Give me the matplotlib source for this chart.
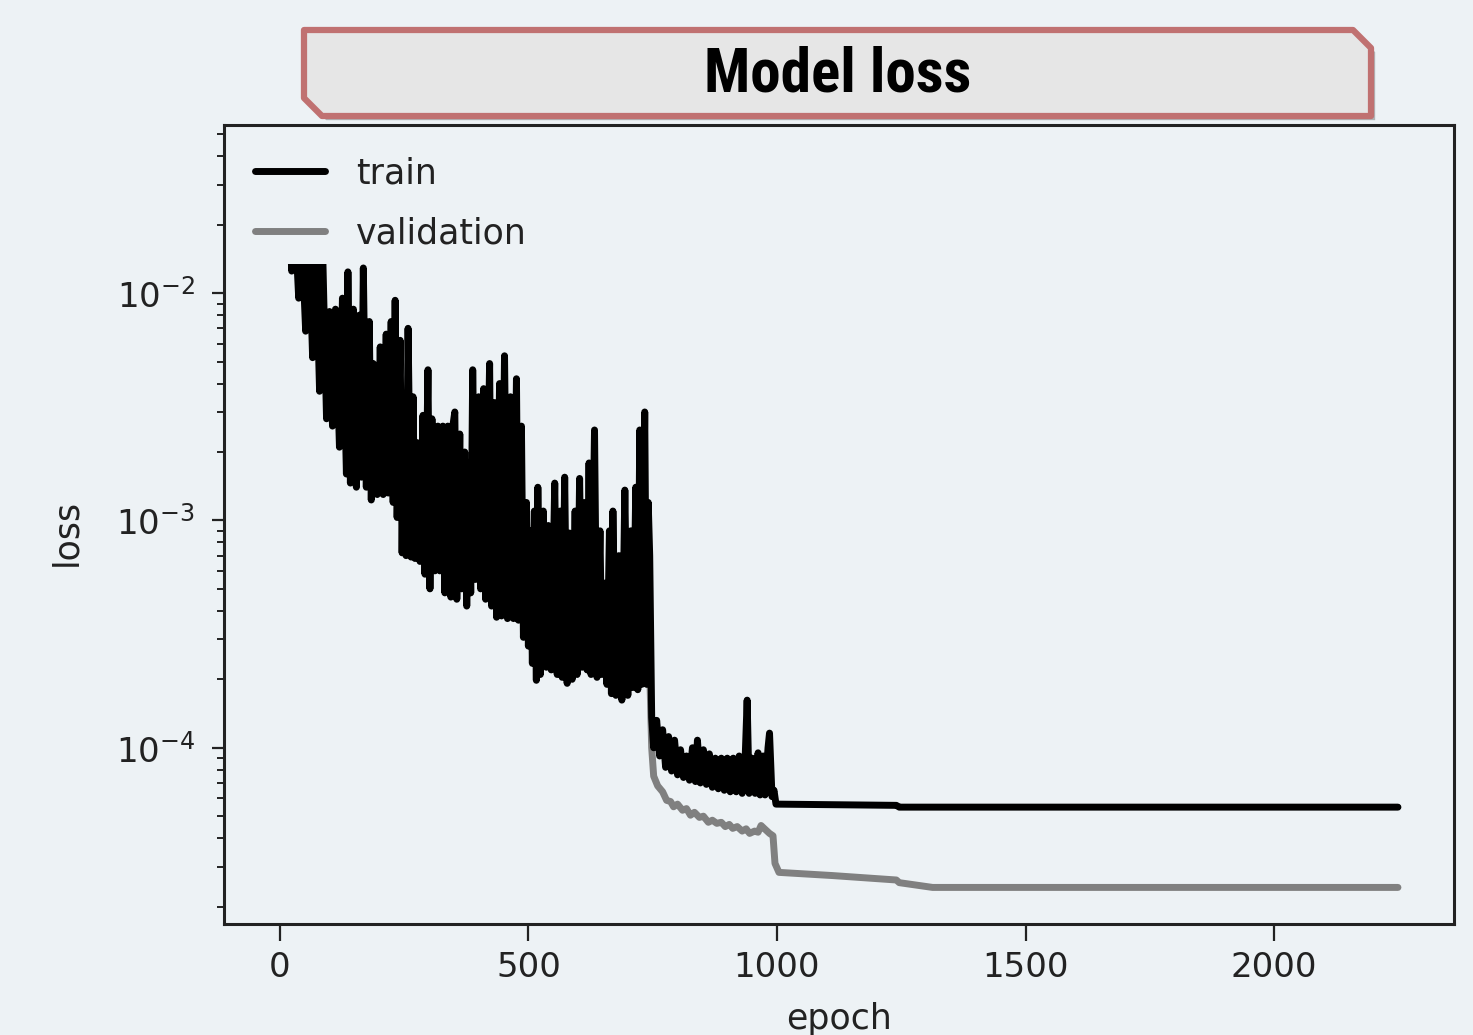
import matplotlib
matplotlib.use("Agg")
import matplotlib.pyplot as plt
from matplotlib import font_manager
from matplotlib.patches import Polygon
import matplotlib.patheffects as pe

# values (log-scale loss per epoch)
TRAIN_EPOCH = [
    0, 10, 18, 24, 30, 38, 44, 52, 58, 66, 72, 80, 86, 94, 100, 106, 112, 120,
    126, 134, 137, 142, 148, 154, 160, 164, 168, 174, 180, 184, 188, 196, 202,
    208, 214, 218, 224, 228, 232, 236, 242, 246, 250, 254, 258, 264, 268, 272,
    276, 282, 288, 292, 298, 302, 306, 312, 318, 322, 328, 332, 338, 344, 348,
    352, 356, 362, 366, 372, 376, 380, 384, 388, 394, 400, 404, 410, 414, 422,
    426, 432, 436, 442, 446, 452, 458, 464, 470, 476, 480, 486, 490, 496, 500,
    504, 508, 512, 516, 519, 524, 530, 536, 540, 546, 553, 558, 564, 568, 573,
    578, 583, 588, 594, 598, 603, 608, 614, 618, 622, 626, 633, 638, 644, 648,
    653, 658, 663, 667, 670, 676, 682, 688, 694, 700, 706, 710, 716, 720, 724,
    728, 734, 738, 741, 744,
    748, 752, 758, 764, 770, 776, 782, 788, 794, 800, 806, 812, 818, 824, 830,
    836, 840, 846, 852, 858, 864, 870, 876, 882, 888, 894, 900, 906, 912, 918,
    924, 930, 936, 940, 944, 950, 956, 962, 966, 972, 976, 982, 985, 990, 994,
    998, 1240, 1246, 2249,
]
TRAIN_LOSS = [
    0.036, 0.016, 0.025, 0.0125, 0.022, 0.0095, 0.018, 0.0068, 0.02, 0.0052,
    0.017, 0.0037, 0.016, 0.0028, 0.0083, 0.0026, 0.0085, 0.0021, 0.0095,
    0.0016, 0.0124, 0.00146, 0.0085, 0.0014, 0.0080, 0.00155, 0.0129, 0.0014,
    0.0075, 0.00123, 0.0049, 0.0013, 0.0058, 0.0013, 0.0066, 0.00132, 0.0075,
    0.0012, 0.0093, 0.00103, 0.0062, 0.00072, 0.0032, 0.0007, 0.0070, 0.00069,
    0.0035, 0.00068, 0.0022, 0.00066, 0.0029, 0.00058, 0.0046, 0.0005, 0.0028,
    0.0006, 0.0026, 0.0006, 0.0026, 0.00048, 0.0026, 0.00046, 0.0026, 0.0030,
    0.00045, 0.0024, 0.0005, 0.0020, 0.00042, 0.0018, 0.00048, 0.0046,
    0.00055, 0.0035, 0.0005, 0.0038, 0.00045, 0.0049, 0.00042, 0.0033,
    0.000375, 0.0040, 0.00038, 0.0053, 0.00037, 0.0035, 0.00037, 0.0042,
    0.000364, 0.0026, 0.000306, 0.0012, 0.00028, 0.0009, 0.000235, 0.0011,
    0.000198, 0.0014, 0.00021, 0.0011, 0.000226, 0.00095, 0.00022, 0.00146,
    0.00021, 0.0011, 0.000204, 0.00155, 0.000192, 0.00088, 0.0002, 0.0011,
    0.00021, 0.00153, 0.000226, 0.0012, 0.00022, 0.00179, 0.00021, 0.0025,
    0.000204, 0.0009, 0.00021, 0.00053, 0.00019, 0.0009, 0.000173, 0.0011,
    0.00017, 0.0007, 0.000162, 0.00136, 0.00017, 0.0009, 0.000184, 0.0014,
    0.00018, 0.0025, 0.00019, 0.0030, 0.00019, 0.0012, 0.0007,
    0.000136, 0.0001, 0.000132, 0.000092, 0.00012, 0.000082, 0.000112,
    0.000079, 0.000108, 0.000076, 0.000098, 0.000074, 0.000092, 0.000072,
    0.0001, 0.000071, 0.000108, 0.00007, 0.000098, 0.000069, 0.000094,
    0.000067, 0.00009, 0.000066, 0.00009, 0.000065, 0.00009, 0.000064,
    0.00009, 0.000064, 0.000092, 0.000063, 0.00009, 0.000162, 0.000063,
    0.00009, 0.000063, 0.000095, 0.000062, 0.000092, 0.000062, 0.0001,
    0.000116, 0.000061, 0.000065,
    0.0000565, 0.0000558, 0.0000548, 0.0000548,
]

VAL_EPOCH = [
    0, 30, 60, 100, 150, 200, 250, 300, 350, 400, 450, 500, 550, 600, 650, 700,
    744, 748, 752, 760, 770, 778, 786, 792, 800, 810, 818, 826, 834, 844, 852,
    862, 870, 879, 888, 896, 904, 911, 920, 930, 938, 945, 955, 962, 968, 975,
    985, 992, 996, 1004, 1112, 1240, 1246, 1313, 2249,
]
VAL_LOSS = [
    0.03, 0.016, 0.009, 0.005, 0.003, 0.0022, 0.0014, 0.0011, 0.0009, 0.0009,
    0.0007, 0.0005, 0.0004, 0.00035, 0.0003, 0.00025, 0.00022, 0.0001,
    0.000075, 0.000068, 0.000064, 0.0000587, 0.000058, 0.000055, 0.0000565,
    0.0000531, 0.000054, 0.0000505, 0.000052, 0.0000494, 0.00005, 0.000047,
    0.000048, 0.0000465, 0.000047, 0.000045, 0.000046, 0.0000442, 0.000045,
    0.000043, 0.000044, 0.000042, 0.000043, 0.0000425, 0.0000455, 0.000044,
    0.000042, 0.000041, 0.000031, 0.0000283, 0.0000274, 0.0000262, 0.0000255,
    0.0000243, 0.0000243,
]

BG = "#edf2f5"
INK = "#222222"


def pick_font(names):
    for n in names:
        try:
            font_manager.findfont(font_manager.FontProperties(family=n),
                                  fallback_to_default=False)
            return n
        except Exception:
            continue
    return "DejaVu Sans"


title_font = pick_font(["Liberation Sans Narrow", "Roboto Condensed",
                        "Open Sans Condensed", "Roboto"])

plt.rcParams["font.family"] = ["DejaVu Sans"]

fig = plt.figure(figsize=(14.73, 10.35), dpi=100, facecolor=BG)
ax = fig.add_axes([0.152, 0.1072, 0.835, 0.772], facecolor=BG)

ax.plot(VAL_EPOCH, VAL_LOSS, color="#808080", lw=5.0, label="validation",
        zorder=2, solid_capstyle="round")
ax.plot(TRAIN_EPOCH, TRAIN_LOSS, color="black", lw=5.0, label="train",
        zorder=3, solid_capstyle="round")
ax.set_yscale("log")
ax.set_ylim(10 ** -4.7755, 10 ** -1.2606)

for s in ax.spines.values():
    s.set_color(INK)
    s.set_linewidth(2.2)
ax.tick_params(axis="both", which="major", labelsize=24.5, colors=INK,
               width=1.6)
ax.tick_params(axis="x", which="major", length=12.5, pad=7)
ax.tick_params(axis="y", which="major", length=8.6, pad=12)
ax.tick_params(axis="y", which="minor", length=4.8, width=1.4, colors=INK)

ax.set_xlabel("epoch", fontsize=25, color=INK)
ax.set_ylabel("loss", fontsize=25, color=INK)
ax.xaxis.set_label_coords(0.5, -0.098)
ax.yaxis.set_label_coords(-0.114, 0.49)

h, l = ax.get_legend_handles_labels()
leg = ax.legend(h[::-1], l[::-1], loc="upper left", fontsize=25,
                frameon=True, facecolor=BG, edgecolor="none", framealpha=1,
                labelspacing=0.75, handletextpad=0.9)
for t in leg.get_texts():
    t.set_color(INK)

# title banner with chamfered corners
W, H = 1473.0, 1035.0
pts = [(304, 30), (1353, 30), (1371, 48), (1371, 116), (322, 116), (304, 98)]
box = Polygon([(x / W, 1 - y / H) for x, y in pts], closed=True,
              transform=fig.transFigure, facecolor="#e6e6e6",
              edgecolor="#c07171", linewidth=4.5, joinstyle="round",
              zorder=10)
box.set_path_effects([pe.SimplePatchShadow(offset=(3, -3),
                                           shadow_rgbFace="#555555",
                                           alpha=0.4),
                      pe.Normal()])
fig.add_artist(box)
fig.text(838 / W, 1 - 75 / H, "Model loss", ha="center", va="center",
         fontsize=44, fontweight="bold", family=title_font, color="black",
         zorder=11)

fig.savefig("out.png", dpi=100, facecolor=BG)
